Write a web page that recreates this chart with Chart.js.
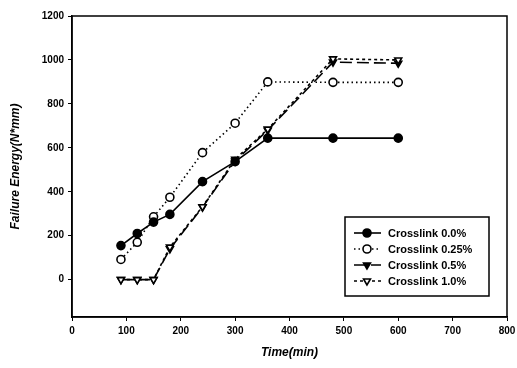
<!DOCTYPE html>
<html>
<head>
<meta charset="utf-8">
<script src="https://cdn.jsdelivr.net/npm/chart.js@4/dist/chart.umd.min.js"></script>
<style>
  html, body { margin: 0; padding: 0; background: #fff; }
  #wrap { width: 517px; height: 368px; }
</style>
</head>
<body>
<div id="wrap"><canvas id="energyChart"></canvas></div>
<script>
// ========================
// DATA
// ========================
const times = [90, 120, 150, 180, 240, 300, 360, 480, 600];
const link00 = [155, 210, 262, 297, 446, 537, 644, 644, 644];
const link025 = [92, 170, 286, 375, 578, 712, 900, 898, 898];
const link05 = [0, 0, 0, 140, 330, 540, 680, 990, 985];
const link10 = [0, 0, 0, 148, 332, 548, 685, 1005, 1000];
const seriesNames = ['Crosslink 0.0%', 'Crosslink 0.25%', 'Crosslink 0.5%', 'Crosslink 1.0%'];
const xTicks = [0, 100, 200, 300, 400, 500, 600, 700, 800];
const yTicks = [0, 200, 400, 600, 800, 1000, 1200];

const toPoints = vals => vals.map((v, i) => ({ x: times[i], y: v }));

const tickFont = { family: 'Liberation Sans, Arial', size: 10, weight: 'bold' };
const titleFont = { family: 'Liberation Sans, Arial', size: 12, weight: 'bold', style: 'italic' };

function makeSet(label, vals, dash, style, rot, filled, order) {
  return {
    label: label,
    data: toPoints(vals),
    order: order,
    borderColor: '#000',
    borderWidth: 1.6,
    borderDash: dash,
    pointStyle: style,
    rotation: rot,
    pointRadius: 4,
    pointBorderWidth: 1.6,
    pointBorderColor: '#000',
    pointBackgroundColor: filled ? '#000' : '#fff',
    tension: 0,
    fill: false
  };
}

// ========================
// BOX + LEGEND PLUGIN
// ========================
const frameAndLegend = {
  id: 'frameAndLegend',
  afterDatasetsDraw(chart) {
    const c = chart.ctx;
    const a = chart.chartArea;
    c.save();
    c.strokeStyle = '#000';
    c.lineWidth = 1.5;
    c.strokeRect(a.left, a.top, a.right - a.left, a.bottom - a.top);

    // legend box inside the plot
    const bx = a.right - 162, by = a.bottom - 100, bw = 144, bh = 79;
    c.fillStyle = '#fff';
    c.fillRect(bx, by, bw, bh);
    c.strokeRect(bx, by, bw, bh);

    chart.data.datasets.forEach((ds, i) => {
      const y = by + 16 + i * 16;
      c.setLineDash(ds.borderDash || []);
      c.strokeStyle = '#000';
      c.lineWidth = ds.borderWidth;
      c.beginPath();
      c.moveTo(bx + 9, y);
      c.lineTo(bx + 36, y);
      c.stroke();
      c.setLineDash([]);
      c.fillStyle = ds.pointBackgroundColor;
      c.lineWidth = ds.pointBorderWidth;
      Chart.helpers.drawPoint(c, { pointStyle: ds.pointStyle, rotation: ds.rotation, radius: 4, borderWidth: ds.pointBorderWidth }, bx + 22, y);
      c.fillStyle = '#000';
      c.font = 'bold 11px Liberation Sans, Arial';
      c.textBaseline = 'middle';
      c.fillText(ds.label, bx + 43, y + 1);
    });
    c.restore();
  }
};

// ========================
// CHART
// ========================
new Chart(document.getElementById('energyChart'), {
  type: 'line',
  data: {
    datasets: [
      makeSet(seriesNames[0], link00, [], 'circle', 0, true, 0),
      makeSet(seriesNames[1], link025, [1.5, 3], 'circle', 0, false, 1),
      makeSet(seriesNames[2], link05, [12, 5], 'triangle', 180, true, 3),
      makeSet(seriesNames[3], link10, [3, 3], 'triangle', 180, false, 2)
    ]
  },
  options: {
    responsive: true,
    maintainAspectRatio: false,
    animation: false,
    layout: { padding: { top: 16, right: 4, left: 4, bottom: 4 } },
    plugins: {
      legend: { display: false },
      tooltip: { enabled: false }
    },
    scales: {
      x: {
        type: 'linear',
        min: 0,
        max: 800,
        afterBuildTicks: s => { s.ticks = xTicks.map(v => ({ value: v })); },
        afterFit: s => { s.height = 47; s.paddingRight = 10; },
        grid: { display: true, drawOnChartArea: false, tickLength: 4, color: '#000', lineWidth: 1 },
        border: { display: true, color: '#000', width: 1.5 },
        ticks: { color: '#000', font: tickFont, padding: 4, maxRotation: 0, callback: v => String(v) },
        title: { display: true, text: 'Time(min)', color: '#000', font: titleFont, padding: { top: 8 } }
      },
      y: {
        min: -170,
        max: 1200,
        afterBuildTicks: s => { s.ticks = yTicks.map(v => ({ value: v })); },
        afterFit: s => { s.width = 68; },
        grid: { display: true, drawOnChartArea: false, tickLength: 4, color: '#000', lineWidth: 1 },
        border: { display: true, color: '#000', width: 1.5 },
        ticks: { color: '#000', font: tickFont, padding: 4, callback: v => String(v) },
        title: { display: true, text: 'Failure Energy(N*mm)', color: '#000', font: titleFont, padding: { bottom: 10 } }
      }
    }
  },
  plugins: [frameAndLegend]
});
</script>
</body>
</html>
